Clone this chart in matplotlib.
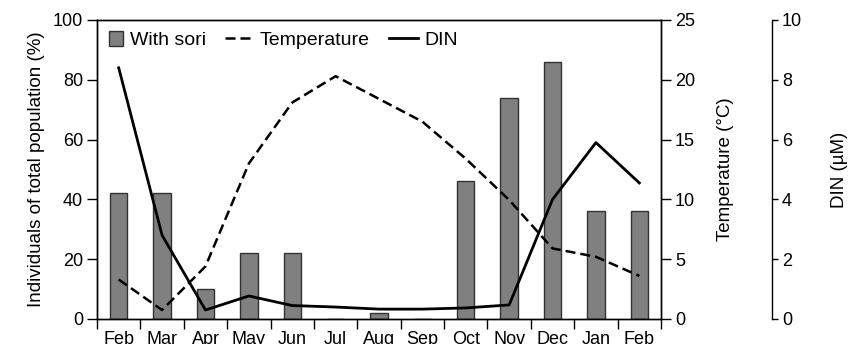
import numpy as np
import matplotlib.pyplot as plt
from matplotlib.patches import Rectangle
from matplotlib.legend_handler import HandlerLine2D, HandlerPatch

plt.rcParams['font.family'] = ['Liberation Sans', 'DejaVu Sans']
plt.rcParams['font.size'] = 13

months = ['Feb', 'Mar', 'Apr', 'May', 'Jun', 'Jul', 'Aug', 'Sep', 'Oct', 'Nov', 'Dec', 'Jan', 'Feb']
sori = [42, 42, 10, 22, 22, 0, 2, 0, 46, 74, 86, 36, 36]
temperature = [3.3, 0.75, 4.4, 13.0, 18.1, 20.3, 18.4, 16.5, 13.4, 9.95, 5.9, 5.2, 3.6]
din = [8.4, 2.8, 0.3, 0.77, 0.45, 0.4, 0.33, 0.33, 0.37, 0.47, 4.0, 5.9, 4.55]

x = np.arange(len(months))


class LongLine(HandlerLine2D):
    # line keys reach further left than the (short) handle box
    def create_artists(self, legend, orig_handle, xdescent, ydescent, width, height, fontsize, trans):
        extra = 10
        return super().create_artists(legend, orig_handle, xdescent + extra, ydescent,
                                      width + extra, height, fontsize, trans)


def square_key(legend, orig_handle, xdescent, ydescent, width, height, fontsize):
    s = 10.5
    return Rectangle((-xdescent, -ydescent + height / 2 - s / 2), s, s)


fig = plt.figure(figsize=(8.48, 3.44), dpi=100)
ax = fig.add_axes([0.1144, 0.0727, 0.6651, 0.8692])

bars = ax.bar(x, sori, width=0.4, color='#808080', edgecolor='#333333', linewidth=1.0, zorder=2)
ax.set_xlim(-0.5, len(months) - 0.5)
ax.set_ylim(0, 100)
ax.set_yticks(np.arange(0, 101, 20))
ax.set_ylabel('Individuals of total population (%)', fontsize=13.5, labelpad=6)

# month names in the middle of each slot, tick marks on the slot edges
ax.set_xticks(np.arange(-0.5, len(months), 1.0))
ax.set_xticklabels([])
ax.set_xticks(x, minor=True)
ax.set_xticklabels(months, minor=True)
ax.tick_params(axis='x', which='major', length=7, width=1)
ax.tick_params(axis='x', which='minor', length=0, pad=9)
ax.tick_params(axis='y', length=7, width=1, pad=3)

ax_t = ax.twinx()
l_temp, = ax_t.plot(x, temperature, color='black', linestyle=(0, (4, 2)), linewidth=1.8, zorder=3)
ax_t.set_ylim(0, 25)
ax_t.set_yticks(np.arange(0, 26, 5))
ax_t.tick_params(axis='y', length=7, width=1, pad=3)
ax_t.set_ylabel('Temperature (°C)', fontsize=13.5, labelpad=16)

ax_d = ax.twinx()
ax_d.spines['right'].set_position(('axes', 1.197))
for s in ['top', 'bottom', 'left']:
    ax_d.spines[s].set_visible(False)
l_din, = ax_d.plot(x, din, color='black', linewidth=2.0, zorder=3)
ax_d.set_ylim(0, 10)
ax_d.set_yticks(np.arange(0, 11, 2))
ax_d.tick_params(axis='y', length=4, width=1, pad=3)
ax_d.set_ylabel('DIN (µM)', fontsize=13.5, labelpad=21)

for a in (ax, ax_t, ax_d):
    for s in a.spines.values():
        s.set_linewidth(1.0)

bar_key = bars[0]
ax.legend([bar_key, l_temp, l_din], ['With sori', 'Temperature', 'DIN'], loc='upper left',
          ncol=3, frameon=False, fontsize=14, handlelength=0.8, columnspacing=1.7,
          handletextpad=0.28, borderaxespad=0.2, bbox_to_anchor=(0.0, 1.0),
          handler_map={l_temp: LongLine(), l_din: LongLine(),
                       bar_key: HandlerPatch(patch_func=square_key)})

fig.savefig('out.png', dpi=100)
